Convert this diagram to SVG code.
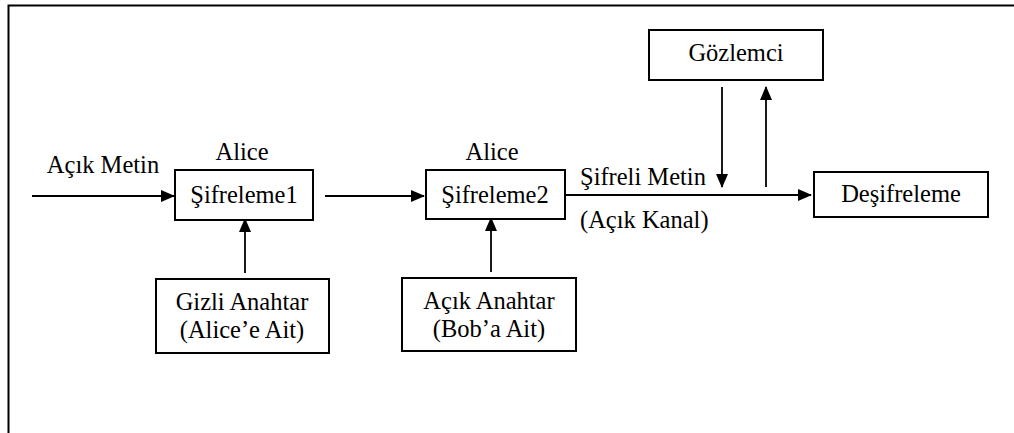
<svg xmlns="http://www.w3.org/2000/svg" width="1014" height="433" viewBox="0 0 1014 433">
  <style>
    .frame { fill: none; stroke: #000; stroke-width: 2; }
    .box { fill: #fff; stroke: #000; stroke-width: 2; }
    .wire { fill: none; stroke: #000; stroke-width: 1.8; }
    text { font-family: "Liberation Serif", "Times New Roman", serif; font-size: 24.5px; fill: #000; }
    .c { text-anchor: middle; }
  </style>
  <defs>
    <marker id="arrow" viewBox="0 0 14 12" refX="13" refY="6" markerWidth="14" markerHeight="12" markerUnits="userSpaceOnUse" orient="auto">
      <path d="M0,0 L14,6 L0,12 Z" fill="#000"/>
    </marker>
  </defs>

  <!-- page frame -->
  <path class="frame" d="M8.5,433 L8.5,5.5 L1014,5.5"/>

  <!-- connectors -->
  <g id="connectors">
    <line class="wire" x1="32" y1="196" x2="174" y2="196" marker-end="url(#arrow)"/>
    <line class="wire" x1="325" y1="196" x2="424" y2="196" marker-end="url(#arrow)"/>
    <line class="wire" x1="565" y1="195" x2="811" y2="195" marker-end="url(#arrow)"/>
    <line class="wire" x1="245" y1="273" x2="245" y2="219" marker-end="url(#arrow)"/>
    <line class="wire" x1="491" y1="272" x2="491" y2="218" marker-end="url(#arrow)"/>
    <line class="wire" x1="722" y1="87" x2="722" y2="187" marker-end="url(#arrow)"/>
    <line class="wire" x1="766" y1="187" x2="766" y2="87" marker-end="url(#arrow)"/>
  </g>

  <!-- free labels -->
  <text x="103" y="173" class="c">Açık Metin</text>
  <text x="242" y="160" class="c">Alice</text>
  <text x="492" y="160" class="c">Alice</text>
  <text x="580" y="185">Şifreli Metin</text>
  <text x="580" y="228">(Açık Kanal)</text>

  <g id="sifreleme1">
    <rect class="box" x="175" y="170" width="138" height="50"/>
    <text x="244" y="203" class="c">Şifreleme1</text>
  </g>

  <g id="sifreleme2">
    <rect class="box" x="426" y="170" width="139" height="49"/>
    <text x="495" y="203" class="c">Şifreleme2</text>
  </g>

  <g id="gizli-anahtar">
    <rect class="box" x="156" y="279" width="173" height="74"/>
    <text x="242" y="310" class="c">Gizli Anahtar</text>
    <text x="242" y="338" class="c">(Alice’e Ait)</text>
  </g>

  <g id="acik-anahtar">
    <rect class="box" x="402" y="278" width="174" height="73"/>
    <text x="489" y="309" class="c">Açık Anahtar</text>
    <text x="489" y="337" class="c">(Bob’a Ait)</text>
  </g>

  <g id="gozlemci">
    <rect class="box" x="649" y="30" width="174" height="50"/>
    <text x="736" y="61" class="c">Gözlemci</text>
  </g>

  <g id="desifreleme">
    <rect class="box" x="814" y="172" width="174" height="45"/>
    <text x="901" y="202" class="c">Deşifreleme</text>
  </g>
</svg>
